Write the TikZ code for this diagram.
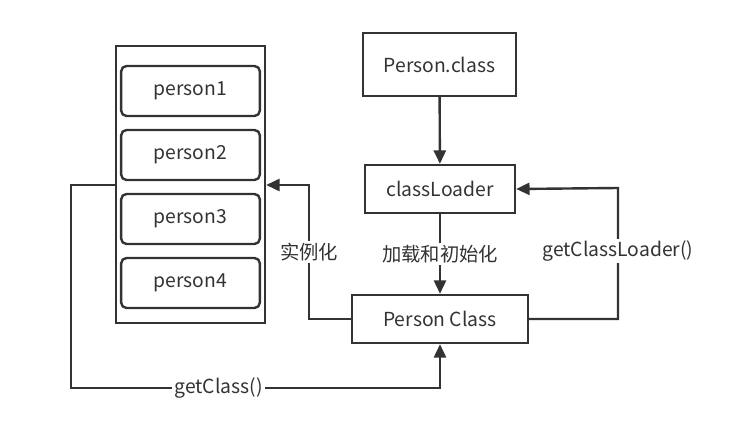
\documentclass[tikz,border=0pt]{standalone}
\usepackage{fontspec}
\setmainfont{Noto Sans CJK SC}
\usepackage{tikz}
\usetikzlibrary{
  arrows.meta,
  positioning
}
\definecolor{inkgray}{HTML}{333333}

\begin{document}
\begin{tikzpicture}[x=0.75pt,y=-0.75pt,
    line width=1.8pt, draw=inkgray, text=inkgray,
    font=\fontsize{14.5pt}{17pt}\selectfont,
    box/.style={draw=inkgray, rectangle, line width=1.8pt, inner sep=0pt},
    objbox/.style={box, rounded corners=4pt, minimum width=104pt, minimum height=37.5pt},
    link/.style={-{Triangle[length=10pt,width=9pt]}, draw=inkgray, line width=1.8pt},
    tag/.style={fill=white, inner sep=1.5pt}]
    \useasboundingbox (0,0) rectangle (744,432);

    % Object container on the left
    \node[box, minimum width=111.75pt, minimum height=207.75pt] (heap) at (190.5,184.5) {};
    \foreach \i/\y in {1/91,2/155,3/219,4/283} {
        \node[objbox] (p\i) at (190.5,\y) {person\i};
    }

    % Class side
    \node[box, minimum width=114.75pt, minimum height=47.25pt] (file) at (439.5,64.5) {Person.class};
    \node[box, minimum width=112.5pt, minimum height=36pt] (loader) at (440,189) {classLoader};
    \node[box, minimum width=132pt, minimum height=36pt] (pclass) at (440,319) {Person Class};

    % Helper corners
    \coordinate (instUp) at (309,185);
    \coordinate (gclR) at (618,188);
    \coordinate (gcL) at (71,388);

    % Loading chain
    \draw[link] (file) -- (loader);
    \draw[link] (loader) -- node[tag] {加载和初始化} (pclass);

    % Instantiate objects
    \draw[link] (pclass.west) -| (instUp) node[tag, pos=0.75] {实例化} -- (instUp -| heap.east);

    % getClassLoader()
    \draw[link] (pclass.east) -| (gclR) node[tag, pos=0.76] {getClassLoader()} -- (loader.east);

    % getClass()
    \draw[link] (instUp -| heap.west) -| (gcL) -| node[tag, pos=0.2] {getClass()} (pclass.south);
\end{tikzpicture}
\end{document}
